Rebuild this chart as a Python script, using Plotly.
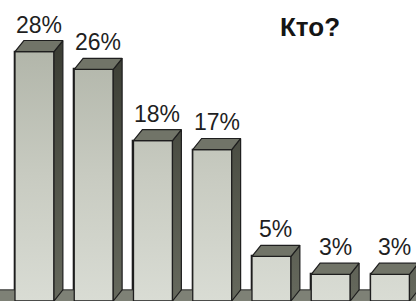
import plotly.graph_objects as go

categories = ["1", "2", "3", "4", "5", "6", "7"]
values = [28, 26, 18, 17, 5, 3, 3]
labels = ["28%", "26%", "18%", "17%", "5%", "3%", "3%"]
title_text = "Кто?"

W = 0.658   # bar front width (x units)
DX = 0.15   # depth offset x
DY = 1.25   # depth offset y

xs = list(range(len(values)))
vmax = max(values)

fig = go.Figure()

# floor (visible between bars)
fig.add_trace(go.Scatter(
    x=[-1, 7.5, 7.5, -1, -1], y=[-1, -1, DY, DY, -1],
    fill="toself", fillcolor="#7e8176", mode="lines",
    line=dict(color="#2a2a2a", width=1), hoverinfo="skip", showlegend=False))

# front faces (bars)
fig.add_trace(go.Bar(
    x=xs, y=values, width=W,
    marker=dict(color="#c6c9c0", line=dict(color="#1e1e1e", width=1.3)),
    showlegend=False, hoverinfo="skip"))

# shading of front faces (same rectangles, gradient fill)
fx, fy = [], []
for x, v in zip(xs, values):
    xl, xr = x - W / 2, x + W / 2
    fx += [xl, xr, xr, xl, xl, None]
    fy += [0, 0, v, v, 0, None]
fig.add_trace(go.Scatter(
    x=fx, y=fy, fill="toself", mode="lines",
    fillgradient=dict(type="vertical", start=0, stop=vmax,
                      colorscale=[[0, "#d9dcd4"], [0.5, "#c8cbc1"], [1, "#b2b6aa"]]),
    line=dict(color="#1e1e1e", width=1.3), hoverinfo="skip", showlegend=False))

# side faces
sx, sy = [], []
for x, v in zip(xs, values):
    xr = x + W / 2
    sx += [xr, xr + DX, xr + DX, xr, xr, None]
    sy += [0, DY, v + DY, v, 0, None]
fig.add_trace(go.Scatter(
    x=sx, y=sy, fill="toself", mode="lines",
    fillgradient=dict(type="vertical", start=0, stop=vmax,
                      colorscale=[[0, "#66695d"], [1, "#3c3e35"]]),
    line=dict(color="#1e1e1e", width=1.2), hoverinfo="skip", showlegend=False))

# top faces
tx, ty = [], []
for x, v in zip(xs, values):
    xl, xr = x - W / 2, x + W / 2
    tx += [xl, xl + DX, xr + DX, xr, xl, None]
    ty += [v, v + DY, v + DY, v, v, None]
fig.add_trace(go.Scatter(
    x=tx, y=ty, fill="toself", fillcolor="#717468", mode="lines",
    line=dict(color="#1e1e1e", width=1.2), hoverinfo="skip", showlegend=False))

# value labels
for x, v, t in zip(xs, values, labels):
    fig.add_annotation(
        x=x + DX / 2, y=v + DY, text=t, showarrow=False,
        xanchor="center", yanchor="bottom", yshift=1,
        font=dict(family="Liberation Sans, Arial, sans-serif", size=23, color="#1f1f1f"))

fig.add_annotation(
    x=310 / 416, y=1 - 27 / 301, xref="x domain", yref="y domain",
    xanchor="center", yanchor="middle", text="<b>" + title_text + "</b>",
    showarrow=False, font=dict(family="Liberation Sans, Arial, sans-serif", size=26, color="#151515"))

fig.update_layout(
    width=416, height=301, autosize=False,
    margin=dict(l=0, r=0, t=0, b=0),
    paper_bgcolor="white", plot_bgcolor="white",
    bargap=0,
    xaxis=dict(range=[-0.582, 6.439], visible=False, fixedrange=True),
    yaxis=dict(range=[0, 33.8], visible=False, fixedrange=True),
)

fig.write_html("out.html", config={"displayModeBar": False},
               post_script="document.body.style.margin='0';document.body.style.overflow='hidden';")
